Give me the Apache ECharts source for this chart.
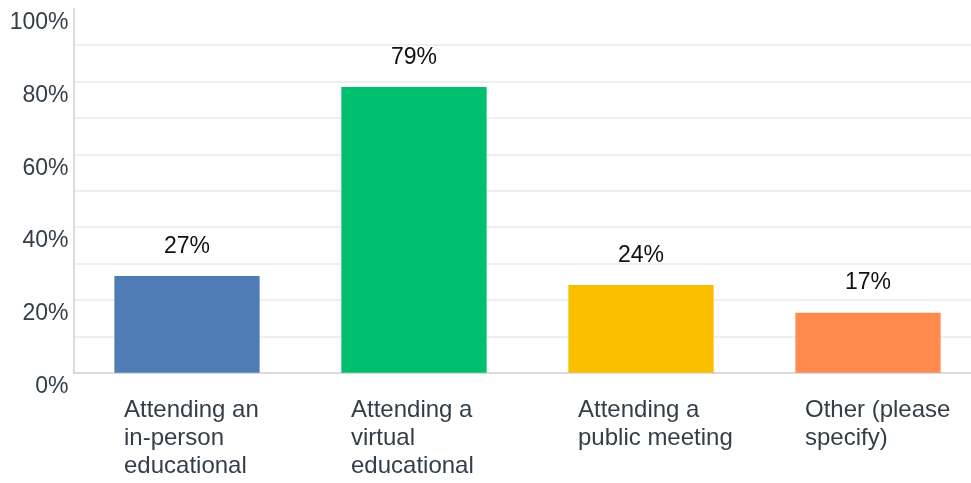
<!DOCTYPE html>
<html>
<head>
<meta charset="utf-8">
<script src="https://cdn.jsdelivr.net/npm/echarts@6/dist/echarts.min.js"></script>
<style>
html,body{margin:0;padding:0;background:#fff;}
#chart{width:971px;height:483px;}
</style>
</head>
<body>
<div id="chart"></div>
<script>
var categories = [
  'Attending an\nin-person\neducational',
  'Attending a\nvirtual\neducational',
  'Attending a\npublic meeting',
  'Other (please\nspecify)'
];
var values = [26.6, 78.5, 24.1, 16.5];
var barColors = ['#507cb6', '#00bf6f', '#f9be00', '#ff8b4f'];
var yTickLabels = ['0%', '20%', '40%', '60%', '80%', '100%'];

var chart = echarts.init(document.getElementById('chart'));
var font = '"Liberation Sans", Arial, sans-serif';
chart.setOption({
  animation: false,
  grid: { left: 73.5, right: -10.5, top: 8.7, bottom: 110.3, containLabel: false, outerBoundsMode: 'none' },
  xAxis: {
    type: 'category',
    data: categories,
    axisLine: { show: true, lineStyle: { color: '#d0d0d0', width: 1.5 } },
    axisTick: { show: false },
    axisLabel: {
      interval: 0,
      margin: 24,
      width: 126,
      align: 'center',
      formatter: function (v) {
        return v.split('\n').map(function (s) { return '{a|' + s + '}'; }).join('\n');
      },
      rich: {
        a: {
          align: 'left',
          fontFamily: font,
          fontSize: 24,
          lineHeight: 28,
          color: '#333e48'
        }
      }
    }
  },
  yAxis: {
    type: 'value',
    min: 0,
    max: 100,
    interval: 10,
    axisLine: { show: true, lineStyle: { color: '#d0d0d0', width: 1.5 } },
    axisTick: { show: false },
    splitLine: { show: true, showMaxLine: false, showMinLine: false, lineStyle: { color: '#efefef', width: 2 } },
    axisLabel: {
      margin: 5,
      verticalAlign: 'top',
      lineHeight: 28,
      fontFamily: font,
      fontSize: 23,
      color: '#333e48',
      formatter: function (v) {
        if (v % 20 !== 0) return '';
        return yTickLabels[v / 20];
      }
    }
  },
  series: [{
    type: 'bar',
    barWidth: '64%',
    data: values.map(function (v, i) {
      return { value: v, itemStyle: { color: barColors[i] } };
    }),
    label: {
      show: true,
      position: 'top',
      distance: 18,
      fontFamily: font,
      fontSize: 23,
      color: '#111',
      formatter: function (p) { return Math.round(p.value) + '%'; }
    }
  }]
});
</script>
</body>
</html>
